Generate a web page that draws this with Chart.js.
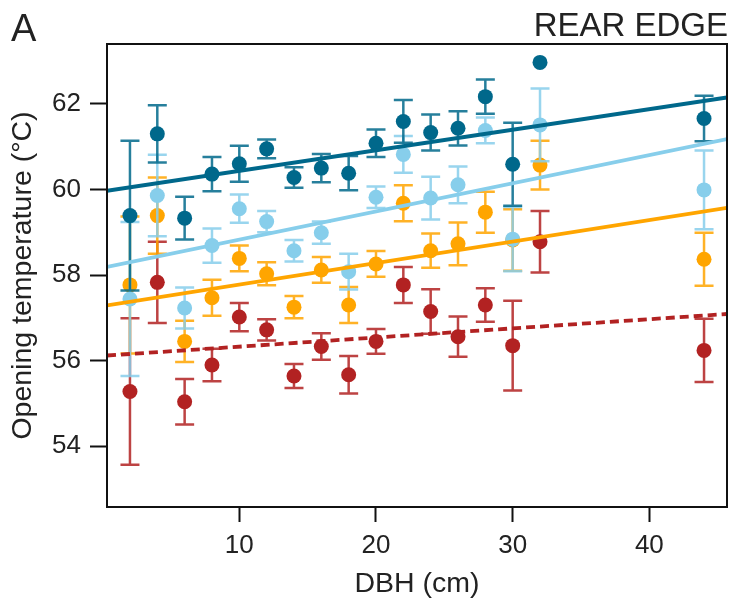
<!DOCTYPE html>
<html lang="en">
<head>
    <meta charset="UTF-8">
    <title>Opening temperature vs DBH - rear edge</title>
    <script src="https://cdn.jsdelivr.net/npm/chart.js"></script>
    <style>
        body {
            margin: 0;
            background: #fff;
        }
        .chart-box {
            width: 735px;
            height: 603px;
        }
    </style>
</head>
<body>
    <div class="chart-box">
        <canvas id="openingChart"></canvas>
    </div>

    <script>
        // DBH classes (cm)
        const dbh = [2, 4, 6, 8, 10, 12, 14, 16, 18, 20, 22, 24, 26, 28, 30, 32, 44];

        // mean opening temperature per class, one array per group
        const darkBlueMean = [59.39, 61.30, 59.33, 60.36, 60.60, 60.95, 60.28, 60.50, 60.38, 61.08, 61.59, 61.33, 61.43, 62.17, 60.59, 62.97, 61.66];
        const darkBlueErr  = [1.75, 0.67, 0.50, 0.40, 0.42, 0.22, 0.24, 0.33, 0.40, 0.32, 0.50, 0.42, 0.40, 0.40, 0.97, 0, 0.53];

        const skyBlueMean = [57.44, 59.86, 57.23, 58.69, 59.55, 59.25, 58.57, 58.99, 58.08, 59.82, 60.82, 59.80, 60.11, 61.38, 58.84, 61.51, 59.99];
        const skyBlueErr  = [1.80, 0.95, 0.48, 0.40, 0.33, 0.25, 0.25, 0.26, 0.42, 0.25, 0.43, 0.50, 0.43, 0.30, 0.75, 0.85, 0.92];

        const orangeMean = [57.77, 59.39, 56.45, 57.47, 58.39, 58.03, 57.25, 58.12, 57.30, 58.26, 59.68, 58.57, 58.73, 59.47, 58.82, 60.57, 58.37];
        const orangeErr  = [1.60, 0.89, 0.48, 0.42, 0.30, 0.27, 0.26, 0.30, 0.42, 0.30, 0.42, 0.40, 0.50, 0.48, 0.72, 0.57, 0.62];

        const redMean = [55.28, 57.83, 55.04, 55.90, 57.02, 56.72, 55.64, 56.33, 55.67, 56.45, 57.77, 57.15, 56.56, 57.30, 56.35, 58.78, 56.24];
        const redErr  = [1.71, 0.95, 0.53, 0.38, 0.33, 0.25, 0.28, 0.31, 0.44, 0.29, 0.42, 0.52, 0.47, 0.39, 1.05, 0.72, 0.74];

        // fitted lines, values at the two ends of the x range
        const fitX = [0.32, 45.68];
        const darkBlueFit = [59.97, 62.15];
        const skyBlueFit = [58.19, 61.18];
        const orangeFit = [57.29, 59.57];
        const redFit = [56.12, 57.09];

        // axis ticks
        const xTicks = [10, 20, 30, 40];
        const yTicks = [54, 56, 58, 60, 62];

        const FONT = "'Liberation Sans', Arial, Helvetica, sans-serif";
        const colors = {
            darkBlue: "#00688B",
            skyBlue: "#87CEEB",
            orange: "#FFA500",
            red: "#B22222"
        };

        function toPoints(xs, ys) {
            return xs.map((x, i) => ({ x: x, y: ys[i] }));
        }

        function pointSet(label, mean, err, color, order) {
            return {
                type: "scatter",
                label: label,
                data: toPoints(dbh, mean),
                errors: err,
                errColor: color,
                backgroundColor: color,
                borderWidth: 0,
                pointRadius: 7.5,
                pointHoverRadius: 7.5,
                order: order
            };
        }

        function fitLine(label, ys, color, dash) {
            return {
                type: "line",
                label: label,
                data: toPoints(fitX, ys),
                borderColor: color,
                borderWidth: 3.8,
                borderDash: dash || [],
                pointRadius: 0,
                fill: false,
                order: 0
            };
        }

        // vertical error bars with caps, drawn just under each group's points
        const errorBars = {
            id: "errorBars",
            beforeDatasetDraw(chart, args) {
                const ds = chart.data.datasets[args.index];
                if (!ds.errors) return;
                const ctx = chart.ctx;
                const xs = chart.scales.x, ys = chart.scales.y;
                ctx.save();
                ctx.strokeStyle = ds.errColor;
                ctx.globalAlpha = 0.85;
                ctx.lineWidth = 2.5;
                ds.data.forEach((p, i) => {
                    const e = ds.errors[i];
                    if (!e) return;
                    const px = xs.getPixelForValue(p.x);
                    const top = ys.getPixelForValue(p.y + e);
                    const bot = ys.getPixelForValue(p.y - e);
                    ctx.beginPath();
                    ctx.moveTo(px, top);
                    ctx.lineTo(px, bot);
                    ctx.moveTo(px - 9.5, top);
                    ctx.lineTo(px + 9.5, top);
                    ctx.moveTo(px - 9.5, bot);
                    ctx.lineTo(px + 9.5, bot);
                    ctx.stroke();
                });
                ctx.restore();
            }
        };

        // plot frame, panel letter and site label
        const frameAndLabels = {
            id: "frameAndLabels",
            afterDraw(chart) {
                const { ctx, chartArea: a } = chart;
                ctx.save();
                ctx.strokeStyle = "#111";
                ctx.lineWidth = 2;
                ctx.strokeRect(a.left, a.top, a.right - a.left, a.bottom - a.top);

                ctx.fillStyle = "#222";
                ctx.textBaseline = "alphabetic";
                ctx.font = "38px " + FONT;
                ctx.textAlign = "left";
                ctx.fillText("A", 11, 41);

                ctx.font = "33px " + FONT;
                ctx.textAlign = "right";
                ctx.fillText("REAR EDGE", 728, 36);
                ctx.restore();
            }
        };

        new Chart(document.getElementById("openingChart"), {
            data: {
                datasets: [
                    fitLine("Fit dark blue", darkBlueFit, colors.darkBlue),
                    fitLine("Fit sky blue", skyBlueFit, colors.skyBlue),
                    fitLine("Fit orange", orangeFit, colors.orange),
                    fitLine("Fit red", redFit, colors.red, [9, 5]),
                    pointSet("Dark blue", darkBlueMean, darkBlueErr, colors.darkBlue, 1),
                    pointSet("Sky blue", skyBlueMean, skyBlueErr, colors.skyBlue, 2),
                    pointSet("Orange", orangeMean, orangeErr, colors.orange, 3),
                    pointSet("Red", redMean, redErr, colors.red, 4)
                ]
            },
            options: {
                responsive: true,
                maintainAspectRatio: false,
                animation: false,
                layout: { padding: { left: 0, right: 8, top: 44, bottom: 0 } },
                plugins: {
                    legend: { display: false },
                    tooltip: { enabled: false }
                },
                scales: {
                    x: {
                        type: "linear",
                        min: 0.32,
                        max: 45.68,
                        afterBuildTicks: axis => { axis.ticks = xTicks.map(v => ({ value: v })); },
                        afterFit: axis => { axis.height = 96; },
                        border: { display: false },
                        grid: {
                            display: true,
                            drawOnChartArea: false,
                            drawTicks: true,
                            tickLength: 15,
                            tickWidth: 2,
                            tickColor: "#111"
                        },
                        ticks: {
                            font: { family: FONT, size: 26 },
                            color: "#222",
                            padding: 8,
                            maxRotation: 0
                        },
                        title: {
                            display: true,
                            text: "DBH (cm)",
                            font: { family: FONT, size: 28.5 },
                            color: "#222",
                            padding: { top: 0, bottom: 2 }
                        }
                    },
                    y: {
                        type: "linear",
                        min: 52.58,
                        max: 63.40,
                        afterBuildTicks: axis => { axis.ticks = yTicks.map(v => ({ value: v })); },
                        afterFit: axis => { axis.width = 107; },
                        border: { display: false },
                        grid: {
                            display: true,
                            drawOnChartArea: false,
                            drawTicks: true,
                            tickLength: 17,
                            tickWidth: 2,
                            tickColor: "#111"
                        },
                        ticks: {
                            font: { family: FONT, size: 26 },
                            color: "#222",
                            padding: 9
                        },
                        title: {
                            display: true,
                            text: "Opening temperature (°C)",
                            font: { family: FONT, size: 28.5 },
                            color: "#222",
                            padding: { top: 6, bottom: 0 }
                        }
                    }
                }
            },
            plugins: [errorBars, frameAndLabels]
        });
    </script>
</body>
</html>
